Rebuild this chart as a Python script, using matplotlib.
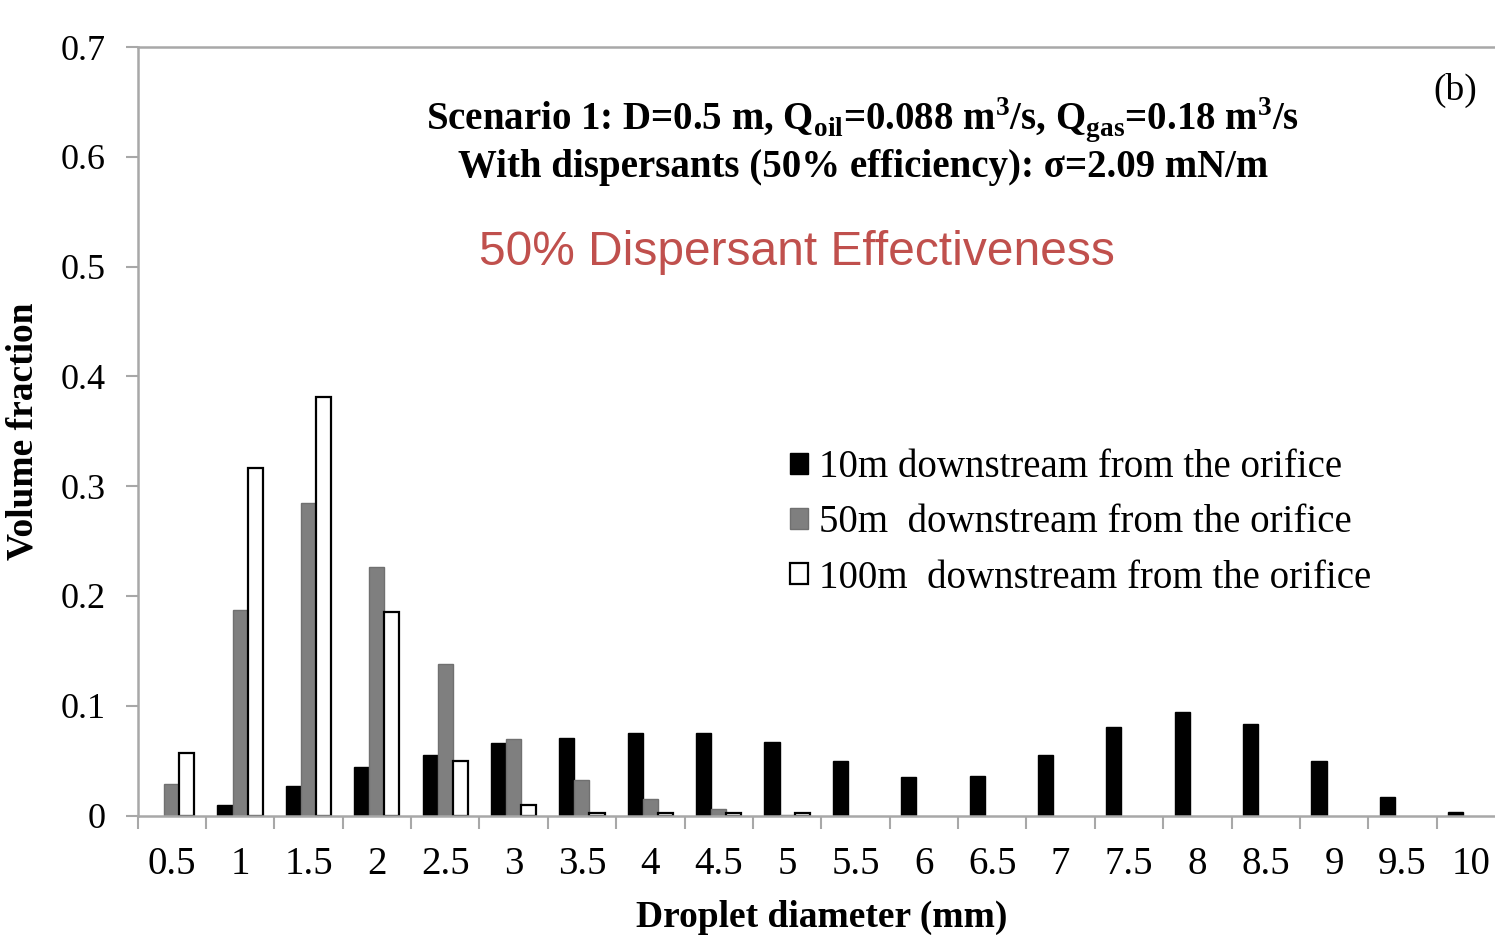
import numpy as np
import matplotlib
matplotlib.use("Agg")
from matplotlib import pyplot as plt

# data
diameters = ['0.5', '1', '1.5', '2', '2.5', '3', '3.5', '4', '4.5', '5',
             '5.5', '6', '6.5', '7', '7.5', '8', '8.5', '9', '9.5', '10']
frac_10m = [0.0, 0.010, 0.027, 0.044, 0.055, 0.066, 0.071, 0.075, 0.075, 0.067,
            0.050, 0.035, 0.036, 0.055, 0.081, 0.094, 0.083, 0.050, 0.017, 0.003]
frac_50m = [0.029, 0.187, 0.285, 0.226, 0.138, 0.070, 0.032, 0.015, 0.006, 0.001,
            0.0, 0.0, 0.0, 0.0, 0.0, 0.0, 0.0, 0.0, 0.0, 0.0]
frac_100m = [0.057, 0.317, 0.381, 0.185, 0.050, 0.010, 0.002, 0.002, 0.002, 0.002,
             0.0, 0.0, 0.0, 0.0, 0.0, 0.0, 0.0, 0.0, 0.0, 0.0]
series_labels = ['10m downstream from the orifice',
                 '50m  downstream from the orifice',
                 '100m  downstream from the orifice']

plt.rcParams['font.family'] = ['Liberation Serif', 'DejaVu Serif']

W, H = 1495, 935
fig = plt.figure(figsize=(W / 100, H / 100), dpi=100)
# axes right edge runs slightly past the picture edge, as in the cropped original
ax = fig.add_axes([137.5 / W, 1 - 815.6 / H, (1505 - 137.5) / W, (815.6 - 47) / H])

x = np.arange(len(diameters))
bw = 0.22


def nz(v):
    v = np.asarray(v, dtype=float)
    return np.where(v > 0, v, np.nan)


ax.bar(x - bw, nz(frac_10m), bw, color='black', edgecolor='black', linewidth=1, label=series_labels[0])
ax.bar(x, nz(frac_50m), bw, color='#7f7f7f', edgecolor='#707070', linewidth=1, label=series_labels[1])
ax.bar(x + bw, nz(frac_100m), bw, color='white', edgecolor='black', linewidth=1.6, label=series_labels[2])

ax.set_xlim(-0.5, len(diameters) - 0.5)
ax.set_ylim(0, 0.7)

spine_col = '#a8a8a8'
for s in ['left', 'top', 'bottom']:
    ax.spines[s].set_color(spine_col)
    ax.spines[s].set_linewidth(1.8)
ax.spines['right'].set_visible(False)

ax.set_yticks(np.arange(0, 0.71, 0.1))
ax.set_yticklabels(['0', '0.1', '0.2', '0.3', '0.4', '0.5', '0.6', '0.7'])
ax.tick_params(axis='y', direction='out', length=9, width=1.5, color=spine_col,
               labelsize=26, pad=14)

# ticks between categories, labels at category centres
ax.set_xticks(np.arange(len(diameters) + 1) - 0.5)
ax.set_xticklabels([])
ax.set_xticks(x, minor=True)
ax.set_xticklabels(diameters, minor=True)
ax.tick_params(axis='x', which='major', direction='out', length=9, width=1.5, color=spine_col)
ax.tick_params(axis='x', which='minor', length=0, labelsize=28, pad=22)

ax.set_ylabel('Volume fraction', fontsize=27, fontweight='bold', labelpad=14)
ax.set_xlabel('Droplet diameter (mm)', fontsize=27, fontweight='bold', labelpad=12)

# annotation text
fig.text(863 / W, 1 - 120 / H,
         r'Scenario 1: D=0.5 m, Q$_\mathregular{oil}$=0.088 m$^\mathregular{3}$/s, '
         r'Q$_\mathregular{gas}$=0.18 m$^\mathregular{3}$/s',
         fontsize=28, fontweight='bold', ha='center', va='center')
fig.text(863 / W, 1 - 167 / H,
         'With dispersants (50% efficiency): \u03c3=2.09 mN/m',
         fontsize=28, fontweight='bold', ha='center', va='center')
fig.text(1455 / W, 1 - 90 / H, '(b)', fontsize=27, ha='center', va='center')
fig.text(797 / W, 1 - 253 / H, '50% Dispersant Effectiveness', fontsize=34.5,
         color='#c0504d', family='Liberation Sans', ha='center', va='center')

fig.legend(loc='center left', bbox_to_anchor=(790 / W, 1 - 523 / H), frameon=False,
           fontsize=28, handlelength=0.45, handleheight=0.45, handletextpad=0.3,
           labelspacing=0.47, borderpad=0, borderaxespad=0)

plt.savefig('out.png', dpi=100)
